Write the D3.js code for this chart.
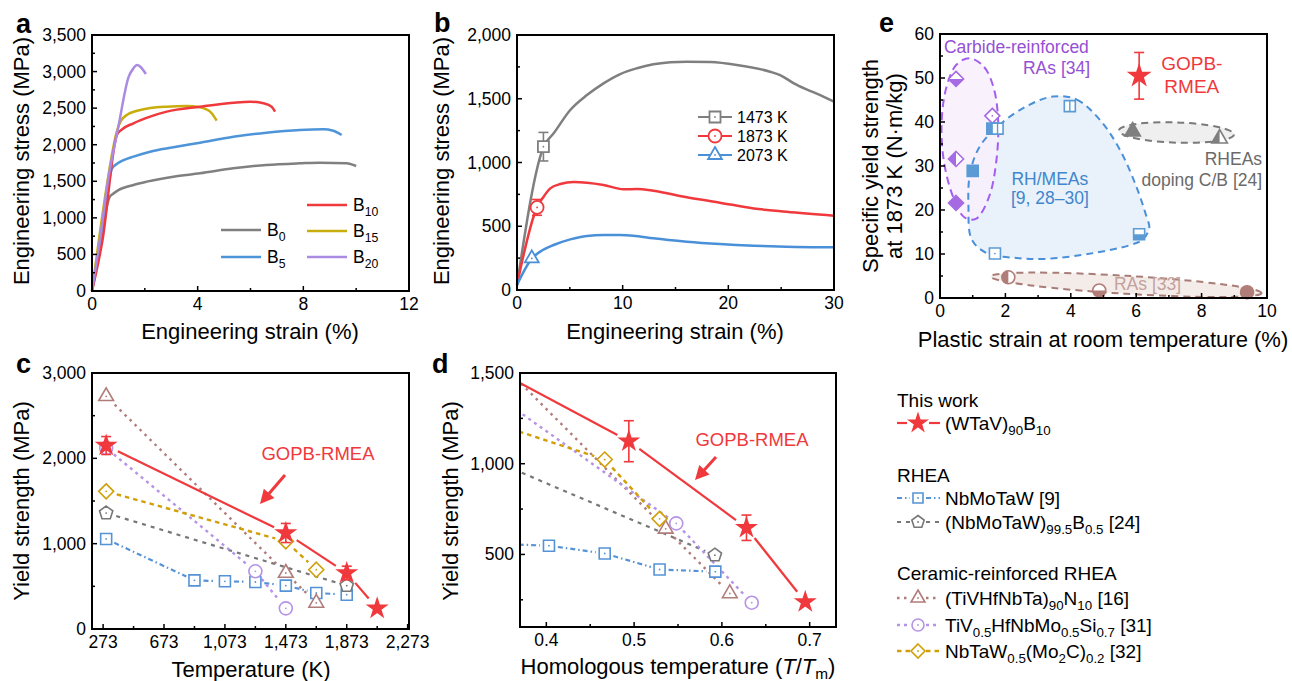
<!DOCTYPE html>
<html lang="en">
<head>
<meta charset="UTF-8">
<title>GOPB-RMEA strength</title>
<script src="https://d3js.org/d3.v7.min.js"></script>
<style>
  body { margin: 0; background: #fff; }
  svg text { font-family: "Liberation Sans", Arial, Helvetica, sans-serif; }
</style>
</head>
<body>
<div id="chart"></div>
<script>
// ---------- panel a : room temperature compression, [strain %, stress MPa]
const curveB0  = [[0,0],[0.3,610],[0.66,1280],[0.8,1330],[1.0,1380],[1.57,1450],[2.07,1495],[3.08,1563],[4.09,1609],[5.35,1677],[6.6,1723],[7.87,1746],[8.63,1755],[9.63,1746],[10.0,1709]];
const curveB5  = [[0,0],[0.35,720],[0.76,1677],[0.95,1740],[1.2,1790],[1.57,1837],[2.2,1905],[3.08,1964],[4.09,2028],[5.35,2110],[6.6,2165],[7.87,2201],[8.75,2210],[9.13,2192],[9.45,2133]];
const curveB10 = [[0,0],[0.4,700],[0.94,2133],[1.1,2200],[1.57,2293],[2.2,2384],[2.83,2452],[4.09,2520],[5.35,2575],[5.98,2589],[6.49,2566],[6.8,2520],[6.93,2452]];
const curveB15 = [[0,0],[0.3,800],[1.0,2250],[1.1,2330],[1.32,2406],[1.83,2475],[2.83,2520],[3.59,2530],[4.09,2511],[4.47,2452],[4.72,2329]];
const curveB20 = [[0,0],[0.3,700],[0.6,1500],[1.0,2250],[1.39,2930],[1.57,3045],[1.7,3090],[1.83,3067],[2.04,2967]];

// ---------- panel b : high temperature compression of B10
const curve1473 = [[0,40],[2.52,1124],[3.47,1229],[5.04,1412],[6.62,1529],[8.19,1621],[9.77,1694],[11.35,1739],[12.9,1770],[14.5,1786],[16.07,1791],[18.3,1788],[20.8,1765],[23.95,1712],[24.9,1686],[26.2,1621],[27.4,1574],[28.7,1529],[30,1477]];
const curve1873 = [[0,40],[1.89,648],[2.52,732],[3.15,797],[4.1,831],[5.36,847],[6.62,842],[8.19,824],[10.08,790],[11.35,792],[12.9,779],[16.07,727],[19.2,685],[22.4,640],[25.5,614],[30,583]];
const curve2073 = [[0,40],[1.42,248],[2.2,301],[3.47,353],[5.04,397],[6.62,424],[8.19,431],[9.77,431],[11.0,426],[12.9,405],[16.07,379],[19.2,361],[22.4,348],[25.5,340],[30,335]];
// yield points [strain, stress, error]
const yield1473 = [2.5, 1124, 112];
const yield1873 = [1.9, 648, 62];
const yield2073 = [1.4, 248, 0];

// ---------- panel c : yield strength vs temperature (K, MPa)
const gopbTemp      = [[293,2150],[1473,1125],[1873,656],[2073,242]];
const gopbTempErr   = [105,112,80,0];
const nbmotawTemp   = [[293,1055],[873,570],[1073,559],[1273,551],[1473,508],[1673,422],[1873,402]];
const nbmotawBTemp  = [[293,1359],[1873,508]];
const tivNTemp      = [[293,2727],[1473,656],[1673,305]];
const tivSiTemp     = [[293,2121],[1273,676],[1473,242]];
const mo2cTemp      = [[293,1613],[1473,1027],[1673,695]];

// ---------- panel d : yield strength vs homologous temperature
const gopbHomo      = [[0.098,2150],[0.494,1124],[0.628,647],[0.695,238]];
const gopbHomoErr   = [0,113,70,0];
const nbmotawHomo   = [[0.0928,1055],[0.276,570],[0.34,559],[0.403,548],[0.4665,505],[0.529,417],[0.5925,405]];
const nbmotawBHomo  = [[0.174,1359],[0.592,496]];
const tivNHomo      = [[0.1067,2727],[0.536,641],[0.609,285]];
const tivSiHomo     = [[0.126,2121],[0.548,671],[0.634,234]];
const mo2cHomo      = [[0.0927,1613],[0.4665,1023],[0.529,696]];

// ---------- panel e : specific yield strength at 1873 K vs RT plastic strain
const carbideRAs = [[0.49,49.8,"bottom"],[1.6,41.4,"open"],[0.49,31.6,"left"],[0.49,21.6,"full"]];
const rhMEAs     = [[3.97,43.6,"split"],[1.6,38.5,"full"],[1.76,38.5,"split"],[1.0,28.9,"full"],[1.68,10.1,"open"],[6.09,14.5,"bottom"]];
const rheasCB    = [[5.89,38.3,"full"],[8.55,36.7,"left"]];
const rasRef33   = [[2.09,4.7,"left"],[4.87,1.7,"bottom"],[9.39,1.3,"full"]];
const gopbSpecific = [[6.09,50.5,5.3]];
// outlines of the grouped regions (data units)
const carbideRegion = [[0.9,54.5],[1.35,52.5],[1.65,47.5],[1.78,40],[1.72,31],[1.5,23],[1.1,18],[0.75,18.3],[0.4,23],[0.12,31],[0.05,40],[0.2,48],[0.5,53]];
const rhRegion = [[3.46,45.8],[4.18,45.1],[4.89,40.5],[5.5,33.7],[6.0,25.4],[6.31,18.6],[6.4,16.0],[6.2,13.3],[5.8,12.0],[4.68,10.2],[3.26,8.9],[2.34,9.1],[1.43,10.2],[0.97,13.3],[0.87,20.8],[0.92,28.4],[1.22,34.5],[1.83,39.4],[2.65,43.6]];
const rheaRegion = {cx:7.23, cy:37.6, rx:1.76, ry:2.3, tilt:2};
const rasRegion  = {cx:5.69, cy:3.0, rx:4.15, ry:2.05, tilt:3.5};

const RED = "#f0393d";
const FS_TICK = 17.5, FS_TITLE = 22;

const svg = d3.select("#chart").append("svg")
    .attr("width", 1292).attr("height", 681).style("display", "block");
svg.append("rect").attr("width", 1292).attr("height", 681).attr("fill", "#fff");
const defs = svg.append("defs");
defs.append("clipPath").attr("id", "halfLeft").append("rect")
    .attr("x", -20).attr("y", -20).attr("width", 20).attr("height", 40);
defs.append("clipPath").attr("id", "halfBottom").append("rect")
    .attr("x", -20).attr("y", 0).attr("width", 40).attr("height", 20);

// ---- helpers
function shapePath(shape, s) {
    if (shape === "square") return `M${-s},${-s}H${s}V${s}H${-s}Z`;
    if (shape === "diamond") return `M0,${-s}L${s},0L0,${s}L${-s},0Z`;
    if (shape === "triangle") return `M0,${-s}L${s*0.866},${s*0.5}L${-s*0.866},${s*0.5}Z`;
    if (shape === "pentagon") {
        const p = d3.range(5).map(i => {
            const a = -Math.PI / 2 + i * 2 * Math.PI / 5;
            return [s * Math.cos(a), s * Math.sin(a)];
        });
        return "M" + p.map(q => q.join(",")).join("L") + "Z";
    }
    if (shape === "circle") return `M${s},0A${s},${s} 0 1,1 ${-s},0A${s},${s} 0 1,1 ${s},0Z`;
    if (shape === "star") return d3.symbol(d3.symbolStar, s * s / 0.8908130915292852)();
}

function drawMarker(g, cx, cy, shape, s, color, fill, sw) {
    const m = g.append("g").attr("transform", `translate(${cx},${cy})`);
    const d = shapePath(shape, s);
    m.append("path").attr("d", d).attr("fill", "#fff");
    if (fill === "full") m.append("path").attr("d", d).attr("fill", color);
    if (fill === "left" || fill === "bottom")
        m.append("path").attr("d", d).attr("fill", color)
            .attr("clip-path", fill === "left" ? "url(#halfLeft)" : "url(#halfBottom)");
    m.append("path").attr("d", d).attr("fill", "none")
        .attr("stroke", color).attr("stroke-width", sw || 1.6).attr("stroke-linejoin", "miter");
    if (fill === "split")
        m.append("line").attr("y1", -s).attr("y2", s).attr("stroke", color).attr("stroke-width", 1.4);
    if (fill === "open" || fill === "dot")
        m.append("circle").attr("r", 0.9).attr("fill", color);
    return m;
}

function errorBar(g, cx, cy0, cy1, color) {
    const e = g.append("g").attr("stroke", color).attr("stroke-width", 1.6);
    e.append("line").attr("x1", cx).attr("x2", cx).attr("y1", cy0).attr("y2", cy1);
    e.append("line").attr("x1", cx - 5).attr("x2", cx + 5).attr("y1", cy0).attr("y2", cy0);
    e.append("line").attr("x1", cx - 5).attr("x2", cx + 5).attr("y1", cy1).attr("y2", cy1);
}

function rich(t, parts) {
    let sub = false;
    parts.forEach(([txt, isSub]) => {
        const ts = t.append("tspan").text(txt);
        if (isSub) {
            ts.attr("font-size", "0.7em");
            if (!sub) ts.attr("dy", 5);
            sub = true;
        } else if (sub) {
            ts.attr("dy", -5);
            sub = false;
        }
    });
}

function frame(box, x, y, spec) {
    const g = svg.append("g");
    const tick = (x1, y1, x2, y2) => g.append("line")
        .attr("x1", x1).attr("y1", y1).attr("x2", x2).attr("y2", y2)
        .attr("stroke", "#000").attr("stroke-width", 1.5);
    spec.xMajor.forEach(v => tick(x(v), box.y1, x(v), box.y1 - 5));
    spec.xMinor.forEach(v => tick(x(v), box.y1, x(v), box.y1 - 3));
    spec.yMajor.forEach(v => tick(box.x0, y(v), box.x0 + 5, y(v)));
    spec.yMinor.forEach(v => tick(box.x0, y(v), box.x0 + 3, y(v)));
    spec.xMajor.forEach(v => g.append("text")
        .attr("x", x(v)).attr("y", box.y1 + 19).attr("text-anchor", "middle")
        .attr("font-size", FS_TICK).text(spec.xFmt(v)));
    spec.yMajor.forEach(v => g.append("text")
        .attr("x", box.x0 - 6).attr("y", y(v) + 6).attr("text-anchor", "end")
        .attr("font-size", FS_TICK).text(spec.yFmt(v)));
    g.append("rect").attr("x", box.x0).attr("y", box.y0)
        .attr("width", box.x1 - box.x0).attr("height", box.y1 - box.y0)
        .attr("fill", "none").attr("stroke", "#000").attr("stroke-width", 2);
    return g;
}

function titles(xt, yt) {
    const tx = svg.append("text").attr("x", xt.x).attr("y", xt.y)
        .attr("text-anchor", "middle").attr("font-size", FS_TITLE);
    rich(tx, xt.parts);
    yt.forEach(l => {
        const ty = svg.append("text").attr("transform", `translate(${l.x},${l.y}) rotate(-90)`)
            .attr("text-anchor", "middle").attr("font-size", FS_TITLE);
        rich(ty, l.parts);
    });
}

function panelLetter(txt, x, y) {
    svg.append("text").attr("x", x).attr("y", y).attr("font-size", 27)
        .attr("font-weight", "bold").text(txt);
}

const fmtComma = d3.format(",");

// =================== panel a ===================
const boxA = {x0: 92, x1: 409, y0: 35, y1: 291};
const xA = d3.scaleLinear().domain([0, 12]).range([boxA.x0, boxA.x1]);
const yA = d3.scaleLinear().domain([0, 3500]).range([boxA.y1, boxA.y0]);
const lineA = d3.line().x(d => xA(d[0])).y(d => yA(d[1])).curve(d3.curveMonotoneX);
const seriesA = [
    {sub: "0", data: curveB0, color: "#808080", leg: [0, 0]},
    {sub: "5", data: curveB5, color: "#4d94d9", leg: [0, 1]},
    {sub: "15", data: curveB15, color: "#c9ad0c", leg: [1, 1]},
    {sub: "10", data: curveB10, color: "#f0393d", leg: [1, 0]},
    {sub: "20", data: curveB20, color: "#a98be3", leg: [1, 2]}
];
seriesA.forEach(s => svg.append("path").attr("d", lineA(s.data))
    .attr("fill", "none").attr("stroke", s.color).attr("stroke-width", 2.5));
seriesA.forEach(s => {
    const lx = s.leg[0] === 0 ? 221 : 307;
    const ly = s.leg[0] === 0 ? 230 + s.leg[1] * 27 : 205 + s.leg[1] * 26;
    svg.append("line").attr("x1", lx).attr("x2", lx + 40).attr("y1", ly).attr("y2", ly)
        .attr("stroke", s.color).attr("stroke-width", 2.5);
    const t = svg.append("text").attr("x", lx + 46).attr("y", ly + 6).attr("font-size", 17.5);
    rich(t, [["B"], [s.sub, 1]]);
});
frame(boxA, xA, yA, {
    xMajor: [0, 4, 8, 12], xMinor: [2, 6, 10],
    yMajor: d3.range(0, 3501, 500), yMinor: d3.range(250, 3500, 500),
    xFmt: fmtComma, yFmt: fmtComma
});
titles({x: 250, y: 339, parts: [["Engineering strain (%)"]]},
       [{x: 29, y: 161, parts: [["Engineering stress (MPa)"]]}]);
panelLetter("a", 16, 33);

// =================== panel b ===================
const boxB = {x0: 517, x1: 834, y0: 35, y1: 290};
const xB = d3.scaleLinear().domain([0, 30]).range([boxB.x0, boxB.x1]);
const yB = d3.scaleLinear().domain([0, 2000]).range([boxB.y1, boxB.y0]);
const lineB = d3.line().x(d => xB(d[0])).y(d => yB(d[1])).curve(d3.curveMonotoneX);
const seriesB = [
    {label: "1473 K", data: curve1473, pt: yield1473, color: "#7f7f7f", shape: "square", s: 5.5},
    {label: "1873 K", data: curve1873, pt: yield1873, color: "#f0393d", shape: "circle", s: 6.5},
    {label: "2073 K", data: curve2073, pt: yield2073, color: "#4a90d9", shape: "triangle", s: 8}
];
seriesB.forEach(s => svg.append("path").attr("d", lineB(s.data))
    .attr("fill", "none").attr("stroke", s.color).attr("stroke-width", 2.5));
seriesB.forEach((s, i) => {
    const [px, py, pe] = s.pt;
    if (pe) errorBar(svg, xB(px), yB(py - pe), yB(py + pe), s.color);
    drawMarker(svg, xB(px), yB(py), s.shape, s.s, s.color, "open", 1.8);
    const ly = 117 + i * 19;
    svg.append("line").attr("x1", 698).attr("x2", 732).attr("y1", ly).attr("y2", ly)
        .attr("stroke", s.color).attr("stroke-width", 2);
    drawMarker(svg, 715, ly, s.shape, s.s, s.color, "open", 1.8);
    svg.append("text").attr("x", 737).attr("y", ly + 6).attr("font-size", 16).text(s.label);
});
frame(boxB, xB, yB, {
    xMajor: [0, 10, 20, 30], xMinor: [5, 15, 25],
    yMajor: d3.range(0, 2001, 500), yMinor: d3.range(250, 2000, 500),
    xFmt: fmtComma, yFmt: fmtComma
});
titles({x: 675, y: 339, parts: [["Engineering strain (%)"]]},
       [{x: 449, y: 161, parts: [["Engineering stress (MPa)"]]}]);
panelLetter("b", 434, 32);

// =================== panels c & d (shared series styles) ===================
const styles = {
    gopb:     {color: RED, dash: null, shape: "star", s: 9.5, width: 2.2},
    nbmotaw:  {color: "#5593d6", dash: "5,3,1.5,3", shape: "square", s: 5.5, width: 2.2},
    nbmotawB: {color: "#777777", dash: "4,5", shape: "pentagon", s: 7, width: 2.2},
    tivN:     {color: "#b07c7a", dash: "2.5,4.5", shape: "triangle", s: 8.5, width: 2.4},
    tivSi:    {color: "#b593e6", dash: "3,4", shape: "circle", s: 6.5, width: 2.4},
    mo2c:     {color: "#d19f08", dash: "4.5,4", shape: "diamond", s: 7.5, width: 2.4}
};

function drawSeries(g, x, y, data, errs, st, inside) {
    const pts = data.map(d => [x(d[0]), y(d[1])]);
    const vis = data.map(d => inside(d));
    const gap = st.s + 3.5;
    for (let i = 0; i < pts.length - 1; i++) {
        const [ax, ay] = pts[i], [bx, by] = pts[i + 1];
        const L = Math.hypot(bx - ax, by - ay);
        const ux = (bx - ax) / L, uy = (by - ay) / L;
        const g0 = vis[i] ? gap : 0, g1 = vis[i + 1] ? gap : 0;
        if (L <= g0 + g1) continue;
        g.append("line")
            .attr("x1", ax + ux * g0).attr("y1", ay + uy * g0)
            .attr("x2", bx - ux * g1).attr("y2", by - uy * g1)
            .attr("stroke", st.color).attr("stroke-width", st.width)
            .attr("stroke-dasharray", st.dash);
    }
    return {pts, vis, errs};
}
function drawSeriesMarkers(g, x, y, data, errs, st, inside) {
    data.forEach((d, i) => {
        if (!inside(d)) return;
        if (errs && errs[i]) errorBar(g, x(d[0]), y(d[1] - errs[i]), y(d[1] + errs[i]), st.color);
        drawMarker(g, x(d[0]), y(d[1]), st.shape, st.s, st.color, st.shape === "star" ? "full" : "open", 1.6);
    });
}
function arrow(g, x1, y1, x2, y2) {
    const L = Math.hypot(x2 - x1, y2 - y1), ux = (x2 - x1) / L, uy = (y2 - y1) / L;
    const bx = x2 - ux * 14, by = y2 - uy * 14;
    g.append("line").attr("x1", x1).attr("y1", y1).attr("x2", bx + ux * 2).attr("y2", by + uy * 2)
        .attr("stroke", RED).attr("stroke-width", 3);
    g.append("path").attr("d", `M${x2},${y2}L${bx - uy * 7},${by + ux * 7}L${bx + uy * 7},${by - ux * 7}Z`)
        .attr("fill", RED);
}

// ---- panel c
const boxC = {x0: 92, x1: 409, y0: 373, y1: 629};
const xC = d3.scaleLinear().domain([200, 2282]).range([boxC.x0, boxC.x1]);
const yC = d3.scaleLinear().domain([0, 3000]).range([boxC.y1, boxC.y0]);
const seriesC = [
    ["nbmotaw", nbmotawTemp, null], ["nbmotawB", nbmotawBTemp, null], ["tivN", tivNTemp, null],
    ["tivSi", tivSiTemp, null], ["mo2c", mo2cTemp, null], ["gopb", gopbTemp, gopbTempErr]
];
const inC = () => true;
const gC = svg.append("g");
seriesC.forEach(([k, d, e]) => drawSeries(gC, xC, yC, d, e, styles[k], inC));
seriesC.forEach(([k, d, e]) => drawSeriesMarkers(gC, xC, yC, d, e, styles[k], inC));
svg.append("text").attr("x", 318).attr("y", 460).attr("text-anchor", "middle")
    .attr("font-size", 18.5).attr("fill", RED).text("GOPB-RMEA");
arrow(svg, 285, 475, 260, 504);
frame(boxC, xC, yC, {
    xMajor: d3.range(273, 2274, 400), xMinor: d3.range(473, 2274, 400),
    yMajor: [0, 1000, 2000, 3000], yMinor: [500, 1500, 2500],
    xFmt: fmtComma, yFmt: fmtComma
});
titles({x: 251, y: 677, parts: [["Temperature (K)"]]},
       [{x: 29, y: 501, parts: [["Yield strength (MPa)"]]}]);
panelLetter("c", 16, 373);

// ---- panel d
const boxD = {x0: 520, x1: 836, y0: 373, y1: 627};
const xD = d3.scaleLinear().domain([0.37, 0.73]).range([boxD.x0, boxD.x1]);
const yD = d3.scaleLinear().domain([100, 1500]).range([boxD.y1, boxD.y0]);
defs.append("clipPath").attr("id", "clipD").append("rect")
    .attr("x", boxD.x0).attr("y", boxD.y0).attr("width", boxD.x1 - boxD.x0).attr("height", boxD.y1 - boxD.y0);
const seriesD = [
    ["nbmotaw", nbmotawHomo, null], ["nbmotawB", nbmotawBHomo, null], ["tivN", tivNHomo, null],
    ["tivSi", tivSiHomo, null], ["mo2c", mo2cHomo, null], ["gopb", gopbHomo, gopbHomoErr]
];
const inD = d => d[0] >= 0.37 && d[0] <= 0.73;
const gD = svg.append("g").attr("clip-path", "url(#clipD)");
seriesD.forEach(([k, d, e]) => drawSeries(gD, xD, yD, d, e, styles[k], inD));
seriesD.forEach(([k, d, e]) => drawSeriesMarkers(gD, xD, yD, d, e, styles[k], inD));
svg.append("text").attr("x", 752).attr("y", 446).attr("text-anchor", "middle")
    .attr("font-size", 18.5).attr("fill", RED).text("GOPB-RMEA");
arrow(svg, 716, 457, 695, 480);
frame(boxD, xD, yD, {
    xMajor: [0.4, 0.5, 0.6, 0.7], xMinor: [0.45, 0.55, 0.65],
    yMajor: [500, 1000, 1500], yMinor: [250, 750, 1250],
    xFmt: d3.format(".1f"), yFmt: fmtComma
});
(function () {
    const t = svg.append("text").attr("x", 678).attr("y", 674)
        .attr("text-anchor", "middle").attr("font-size", FS_TITLE);
    t.append("tspan").text("Homologous temperature (");
    t.append("tspan").attr("font-style", "italic").text("T");
    t.append("tspan").text("/");
    t.append("tspan").attr("font-style", "italic").text("T");
    t.append("tspan").attr("font-size", "0.7em").attr("dy", 5).text("m");
    t.append("tspan").attr("dy", -5).text(")");
})();
titles({x: -100, y: -100, parts: [[""]]},
       [{x: 458, y: 501, parts: [["Yield strength (MPa)"]]}]);
panelLetter("d", 432, 373);

// ---- legend for c & d
const legendLayout = [
    {head: "This work", y: 407, items: [["gopb", 423, [["(WTaV)"], ["90", 1], ["B"], ["10", 1]]]]},
    {head: "RHEA", y: 482, items: [
        ["nbmotaw", 498, [["NbMoTaW [9]"]]],
        ["nbmotawB", 522, [["(NbMoTaW)"], ["99.5", 1], ["B"], ["0.5", 1], [" [24]"]]]]},
    {head: "Ceramic-reinforced RHEA", y: 580, items: [
        ["tivN", 598, [["(TiVHfNbTa)"], ["90", 1], ["N"], ["10", 1], [" [16]"]]],
        ["tivSi", 625, [["TiV"], ["0.5", 1], ["HfNbMo"], ["0.5", 1], ["Si"], ["0.7", 1], [" [31]"]]],
        ["mo2c", 651, [["NbTaW"], ["0.5", 1], ["(Mo"], ["2", 1], ["C)"], ["0.2", 1], [" [32]"]]]]}
];
legendLayout.forEach(grp => {
    svg.append("text").attr("x", 897).attr("y", grp.y).attr("font-size", 19).text(grp.head);
    grp.items.forEach(([k, ly, parts]) => {
        const st = styles[k];
        const sg = k === "gopb" ? 11 : 8;
        [[897, 918 - sg], [918 + sg, 940]].forEach(([a, b]) => svg.append("line")
            .attr("x1", a).attr("x2", b).attr("y1", ly).attr("y2", ly)
            .attr("stroke", st.color).attr("stroke-width", st.width).attr("stroke-dasharray", st.dash));
        drawMarker(svg, 918, ly, st.shape, k === "gopb" ? 9 : st.s - 0.5, st.color,
            k === "gopb" ? "full" : "open", 1.6);
        const t = svg.append("text").attr("x", 945).attr("y", ly + 6.5).attr("font-size", 19);
        rich(t, parts);
    });
});

// =================== panel e ===================
const boxE = {x0: 940, x1: 1267, y0: 34, y1: 298};
const xE = d3.scaleLinear().domain([0, 10]).range([boxE.x0, boxE.x1]);
const yE = d3.scaleLinear().domain([0, 60]).range([boxE.y1, boxE.y0]);
const blob = d3.line().x(d => xE(d[0])).y(d => yE(d[1])).curve(d3.curveCatmullRomClosed.alpha(0.5));
const ell = (g, r) => g.append("ellipse")
    .attr("transform", `translate(${xE(r.cx)},${yE(r.cy)}) rotate(${r.tilt})`)
    .attr("rx", xE(r.rx) - xE(0)).attr("ry", yE(0) - yE(r.ry));
const gE = svg.append("g");
// fills
gE.append("path").attr("d", blob(rhRegion)).attr("fill", "#e9f1fb");
gE.append("path").attr("d", blob(carbideRegion)).attr("fill", "#f8eefb").attr("fill-opacity", 0.85);
ell(gE, rheaRegion).attr("fill", "#efefef");
ell(gE, rasRegion).attr("fill", "#f4ece9");
// dashed outlines
gE.append("path").attr("d", blob(rhRegion)).attr("fill", "none")
    .attr("stroke", "#4a90d9").attr("stroke-width", 2).attr("stroke-dasharray", "7,5");
gE.append("path").attr("d", blob(carbideRegion)).attr("fill", "none")
    .attr("stroke", "#a35ef0").attr("stroke-width", 2).attr("stroke-dasharray", "8,5");
ell(gE, rheaRegion).attr("fill", "none").attr("stroke", "#7a7a7a")
    .attr("stroke-width", 2).attr("stroke-dasharray", "7,5");
ell(gE, rasRegion).attr("fill", "none").attr("stroke", "#a87c77")
    .attr("stroke-width", 2).attr("stroke-dasharray", "7,5");
// text labels
const eText = (x, y, anchor, color, size, txt) => gE.append("text")
    .attr("x", xE(x)).attr("y", yE(y)).attr("text-anchor", anchor)
    .attr("fill", color).attr("font-size", size).text(txt);
eText(0.12, 55.7, "start", "#9550d4", 17.5, "Carbide-reinforced");
eText(4.59, 50.9, "end", "#9550d4", 17.5, "RAs [34]");
eText(7.7, 51.9, "middle", RED, 19, "GOPB-");
eText(7.7, 46.7, "middle", RED, 19, "RMEA");
eText(9.85, 30.3, "end", "#6a6a6a", 17.5, "RHEAs");
eText(9.85, 25.5, "end", "#6a6a6a", 17.5, "doping C/B [24]");
eText(3.36, 25.75, "middle", "#3f86cc", 17.5, "RH/MEAs");
eText(3.36, 21.4, "middle", "#3f86cc", 17.5, "[9, 28\u201330]");
eText(5.32, 1.8, "start", "#c3a19c", 17.5, "RAs [33]");
// markers
carbideRAs.forEach(d => drawMarker(gE, xE(d[0]), yE(d[1]), "diamond", 7.5, "#a66be3", d[2], 1.6));
rhMEAs.forEach(d => drawMarker(gE, xE(d[0]), yE(d[1]), "square", 5.5, "#5b9bd5", d[2], 1.6));
rheasCB.forEach(d => drawMarker(gE, xE(d[0]), yE(d[1]) + 2, "triangle", 9, "#7f7f7f", d[2], 1.6));
rasRef33.forEach(d => drawMarker(gE, xE(d[0]), yE(d[1]), "circle", 6.5, "#b07d78", d[2], 1.6));
gopbSpecific.forEach(d => {
    errorBar(gE, xE(d[0]), yE(d[1] - d[2]), yE(d[1] + d[2]), RED);
    drawMarker(gE, xE(d[0]), yE(d[1]), "star", 10.5, RED, "full", 1.6);
});
frame(boxE, xE, yE, {
    xMajor: d3.range(0, 11, 2), xMinor: d3.range(1, 10, 2),
    yMajor: d3.range(0, 61, 10), yMinor: d3.range(5, 60, 10),
    xFmt: d3.format("d"), yFmt: d3.format("d")
});
titles({x: 1103, y: 347, parts: [["Plastic strain at room temperature (%)"]]},
       [{x: 878, y: 166, parts: [["Specific yield strength"]]},
        {x: 902, y: 166, parts: [["at 1873 K (N\u00b7m/kg)"]]}]);
panelLetter("e", 879, 32);
</script>
</body>
</html>
